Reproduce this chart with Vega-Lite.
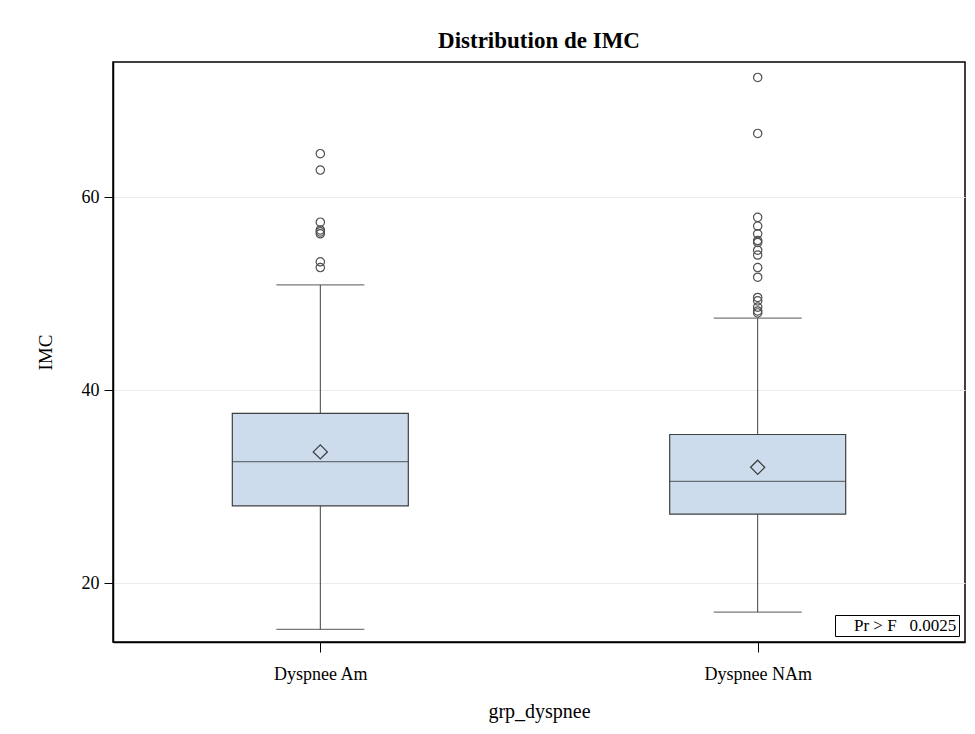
{
  "$schema": "https://vega.github.io/schema/vega-lite/v6.json",
  "autosize": "none",
  "width": 852,
  "height": 580,
  "padding": {"left": 113, "top": 62, "right": 10, "bottom": 92},
  "background": "white",
  "title": {"text": "Distribution de IMC", "font": "Liberation Serif", "fontSize": 23, "fontWeight": "bold", "color": "#000", "anchor": "middle", "offset": 9},
  "config": {
    "view": {"stroke": "#000", "strokeWidth": 1.5},
    "font": "Liberation Serif",
    "axis": {"labelFont": "Liberation Serif", "titleFont": "Liberation Serif", "labelColor": "#000", "titleColor": "#000", "titleFontWeight": "normal", "tickColor": "#000", "domainColor": "#000", "domainWidth": 1.5},
    "axisX": {"labelFontSize": 18, "titleFontSize": 20, "labelAngle": 0, "tickSize": 10, "labelPadding": 13, "titlePadding": 18, "grid": false},
    "axisY": {"labelFontSize": 18, "titleFontSize": 19, "tickSize": 9, "labelPadding": 5, "titlePadding": 26, "grid": true, "gridColor": "#ebebeb", "gridWidth": 1}
  },
  "datasets": {
    "summary": [
      {"grp": "Dyspnee Am", "lower": 15.2, "q1": 28.0, "median": 32.6, "mean": 33.6, "q3": 37.6, "upper": 50.9},
      {"grp": "Dyspnee NAm", "lower": 17.0, "q1": 27.15, "median": 30.55, "mean": 32.0, "q3": 35.4, "upper": 47.45}
    ],
    "outliers": [
      {"grp": "Dyspnee Am", "imc": 64.5},
      {"grp": "Dyspnee Am", "imc": 62.8},
      {"grp": "Dyspnee Am", "imc": 57.4},
      {"grp": "Dyspnee Am", "imc": 56.6},
      {"grp": "Dyspnee Am", "imc": 56.4},
      {"grp": "Dyspnee Am", "imc": 56.2},
      {"grp": "Dyspnee Am", "imc": 53.3},
      {"grp": "Dyspnee Am", "imc": 52.7},
      {"grp": "Dyspnee NAm", "imc": 72.4},
      {"grp": "Dyspnee NAm", "imc": 66.6},
      {"grp": "Dyspnee NAm", "imc": 57.9},
      {"grp": "Dyspnee NAm", "imc": 57.0},
      {"grp": "Dyspnee NAm", "imc": 56.2},
      {"grp": "Dyspnee NAm", "imc": 55.5},
      {"grp": "Dyspnee NAm", "imc": 55.3},
      {"grp": "Dyspnee NAm", "imc": 54.5},
      {"grp": "Dyspnee NAm", "imc": 54.0},
      {"grp": "Dyspnee NAm", "imc": 52.7},
      {"grp": "Dyspnee NAm", "imc": 51.7},
      {"grp": "Dyspnee NAm", "imc": 49.6},
      {"grp": "Dyspnee NAm", "imc": 49.25},
      {"grp": "Dyspnee NAm", "imc": 48.6},
      {"grp": "Dyspnee NAm", "imc": 48.2},
      {"grp": "Dyspnee NAm", "imc": 48.0}
    ],
    "stat": [{"stat": "Pr > F\u00a0\u00a0\u00a00.0025"}]
  },
  "layer": [
    {
      "data": {"name": "summary"},
      "mark": {"type": "rule", "color": "#404040", "strokeWidth": 1},
      "encoding": {
        "x": {"field": "grp", "type": "nominal", "scale": {"type": "point", "padding": 0.474}, "axis": {"title": "grp_dyspnee"}},
        "y": {"field": "lower", "type": "quantitative", "scale": {"domain": [13.9, 74.0], "nice": false, "zero": false}, "axis": {"title": "IMC", "values": [20, 40, 60]}},
        "y2": {"field": "q1"}
      }
    },
    {
      "data": {"name": "summary"},
      "mark": {"type": "rule", "color": "#404040", "strokeWidth": 1},
      "encoding": {
        "x": {"field": "grp", "type": "nominal"},
        "y": {"field": "q3", "type": "quantitative"},
        "y2": {"field": "upper"}
      }
    },
    {
      "data": {"name": "summary"},
      "mark": {"type": "tick", "color": "#404040", "size": 88, "thickness": 1.2},
      "encoding": {
        "x": {"field": "grp", "type": "nominal"},
        "y": {"field": "lower", "type": "quantitative"}
      }
    },
    {
      "data": {"name": "summary"},
      "mark": {"type": "tick", "color": "#404040", "size": 88, "thickness": 1.2},
      "encoding": {
        "x": {"field": "grp", "type": "nominal"},
        "y": {"field": "upper", "type": "quantitative"}
      }
    },
    {
      "data": {"name": "summary"},
      "mark": {"type": "bar", "size": 176, "fill": "#CCDCEC", "stroke": "#404040", "strokeWidth": 1.2},
      "encoding": {
        "x": {"field": "grp", "type": "nominal"},
        "y": {"field": "q1", "type": "quantitative"},
        "y2": {"field": "q3"}
      }
    },
    {
      "data": {"name": "summary"},
      "mark": {"type": "tick", "color": "#404040", "size": 176, "thickness": 1.3},
      "encoding": {
        "x": {"field": "grp", "type": "nominal"},
        "y": {"field": "median", "type": "quantitative"}
      }
    },
    {
      "data": {"name": "summary"},
      "mark": {"type": "point", "shape": "diamond", "size": 200, "filled": false, "color": "#404040", "strokeWidth": 1.3, "opacity": 1},
      "encoding": {
        "x": {"field": "grp", "type": "nominal"},
        "y": {"field": "mean", "type": "quantitative"}
      }
    },
    {
      "data": {"name": "outliers"},
      "mark": {"type": "point", "shape": "circle", "size": 70, "filled": false, "color": "#505050", "strokeWidth": 1.2, "opacity": 1},
      "encoding": {
        "x": {"field": "grp", "type": "nominal"},
        "y": {"field": "imc", "type": "quantitative"}
      }
    },
    {
      "data": {"name": "stat"},
      "mark": {"type": "point", "opacity": 0},
      "encoding": {
        "color": {"field": "stat", "type": "nominal", "scale": {"range": ["#ffffff"]}, "legend": {"title": null, "orient": "bottom-right", "offset": 6, "strokeColor": "#000", "fillColor": "#fff", "padding": 2, "symbolSize": 0, "symbolOpacity": 0, "symbolStrokeWidth": 0, "labelOffset": 0, "labelFont": "Liberation Serif", "labelFontSize": 17, "labelColor": "#000", "labelLimit": 300}}
      }
    }
  ]
}
